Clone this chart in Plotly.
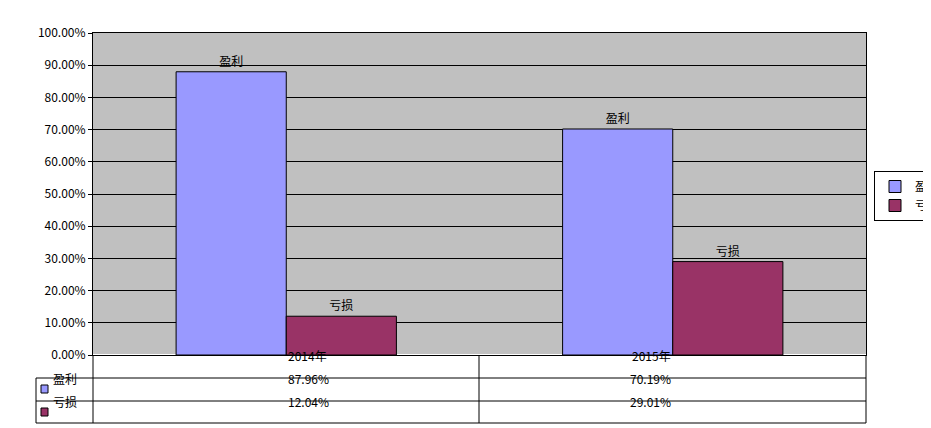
import plotly.graph_objects as go

categories = ["2014年", "2015年"]
profit = [87.96, 70.19]
loss = [12.04, 29.01]
series_names = ["盈利", "亏损"]
colors = ["#9999FF", "#993366"]

W, H = 931, 428
L, R, T, B = 85, 858, 25, 347
pw, ph = R - L, B - T
def px(x): return (x - L) / pw
def py(y): return (B - y) / ph

font = dict(family="SimSun, Noto Sans CJK SC", size=12, color="black")
fig = go.Figure()
for name, vals, c in zip(series_names, [profit, loss], colors):
    fig.add_trace(go.Bar(x=categories, y=vals, name=name, marker=dict(color=c, line=dict(color="black", width=1)),
                         text=[name]*len(vals), textposition="outside", textfont=font, cliponaxis=False))

shapes = []
def line(x0, y0, x1, y1):
    shapes.append(dict(type="line", xref="paper", yref="paper", x0=px(x0), y0=py(y0), x1=px(x1), y1=py(y1),
                       line=dict(color="black", width=1)))
line(85, 370, 858, 370); line(28, 370, 28, 415)
line(28, 393, 858, 393); line(28, 415, 858, 415)
line(85, 347, 85, 415); line(471, 347, 471, 415); line(858, 347, 858, 415)
line(28, 370, 85, 370)

anns = []
cols = [278, 665]
for i, cat in enumerate(categories):
    anns.append(dict(x=px(cols[i]), y=py(358), xref="paper", yref="paper", text=cat, showarrow=False, font=font))
for r, (name, vals, c) in enumerate(zip(series_names, [profit, loss], colors)):
    yc = 381 + 23 * r
    for i, v in enumerate(vals):
        anns.append(dict(x=px(cols[i]), y=py(yc), xref="paper", yref="paper", text=f"{v:.2f}%", showarrow=False, font=font))
    anns.append(dict(x=px(43), y=py(yc), xref="paper", yref="paper", text=name, showarrow=False, font=font, xanchor="left"))
    shapes.append(dict(type="rect", xref="paper", yref="paper", x0=px(33), x1=px(40), y0=py(yc-4), y1=py(yc+4),
                       fillcolor=c, line=dict(color="black", width=1)))

fig.update_layout(
    width=W, height=H, margin=dict(l=L, r=W - R, t=T, b=H - B, autoexpand=False),
    paper_bgcolor="white", plot_bgcolor="#C0C0C0",
    barmode="group", bargap=0.43, bargroupgap=0,
    font=font, shapes=shapes, annotations=anns,
    xaxis=dict(showticklabels=False, showline=True, linecolor="black", mirror=True, ticks="", automargin=False),
    yaxis=dict(range=[0, 100], dtick=10, tickformat=".2f", ticksuffix="%", showgrid=True, gridcolor="black",
               gridwidth=1, showline=True, linecolor="black", mirror=True, ticks="outside", ticklen=4,
               tickcolor="black", automargin=False),
    legend=dict(x=px(866), y=py(163), xanchor="left", yanchor="top", bordercolor="black", borderwidth=1,
                bgcolor="white", font=font, itemwidth=30, tracegroupgap=2),
)
fig.write_html("out.html")
